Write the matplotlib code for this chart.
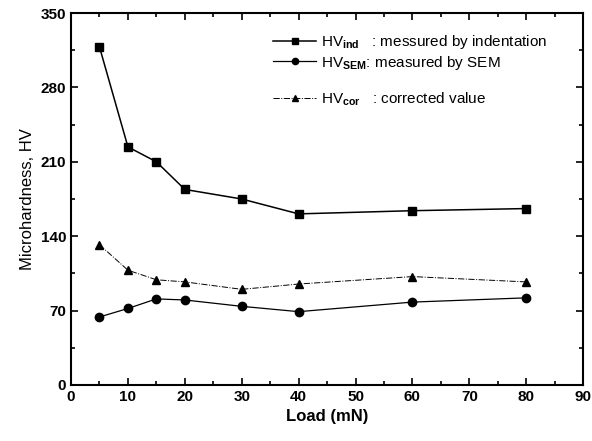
import matplotlib
matplotlib.use("Agg")
import matplotlib.pyplot as plt
from matplotlib.lines import Line2D
from matplotlib.ticker import MultipleLocator

plt.rcParams['font.family'] = ['Liberation Sans', 'DejaVu Sans']
plt.rcParams['mathtext.fontset'] = 'custom'
plt.rcParams['mathtext.rm'] = 'Liberation Sans'
plt.rcParams['mathtext.bf'] = 'Liberation Sans:bold'

load = [5, 10, 15, 20, 30, 40, 60, 80]
hv_ind = [318, 224, 210, 184, 175, 161, 164, 166]
hv_sem = [64, 72, 81, 80, 74, 69, 78, 82]
hv_cor = [132, 108, 99, 97, 90, 95, 102, 97]

fig = plt.figure(figsize=(5.92, 4.41), dpi=100)
ax = fig.add_axes([0.12, 0.127, 0.865, 0.8435])

l1, = ax.plot(load, hv_ind, '-', color='black', marker='s', ms=6, lw=1.1,
              label=r'HV$_{\mathbf{ind}}$   : messured by indentation')
l2, = ax.plot(load, hv_sem, '-', color='black', marker='o', ms=6, lw=0.9,
              label=r'HV$_{\mathbf{SEM}}$: measured by SEM')
l3, = ax.plot(load, hv_cor, '-.', color='black', marker='^', ms=6, lw=0.7,
              label=r'HV$_{\mathbf{cor}}$   : corrected value')
blank = Line2D([], [], color='none', label='HV')

ax.set_xlim(0, 90)
ax.set_ylim(0, 350)
ax.xaxis.set_major_locator(MultipleLocator(10))
ax.xaxis.set_minor_locator(MultipleLocator(5))
ax.yaxis.set_major_locator(MultipleLocator(70))
ax.yaxis.set_minor_locator(MultipleLocator(35))
ax.tick_params(which='both', direction='in', top=True, right=True, width=1.2)
ax.tick_params(which='major', length=5, labelsize=11)
ax.tick_params(which='minor', length=3)
for lbl in ax.get_xticklabels() + ax.get_yticklabels():
    lbl.set_fontweight('bold')
for s in ax.spines.values():
    s.set_linewidth(1.5)

ax.set_xlabel('Load (mN)', fontsize=12, fontweight='bold')
ax.set_ylabel('Microhardness, HV', fontsize=12)

leg = ax.legend(handles=[l1, l2, blank, l3], loc='upper left',
                bbox_to_anchor=(0.395, 0.945), frameon=False, fontsize=11,
                handlelength=2.8, handletextpad=0.35, labelspacing=0.15,
                borderaxespad=0, borderpad=0, markerscale=0.75)
leg.get_texts()[2].set_alpha(0)

fig.savefig('out.png', dpi=100)
